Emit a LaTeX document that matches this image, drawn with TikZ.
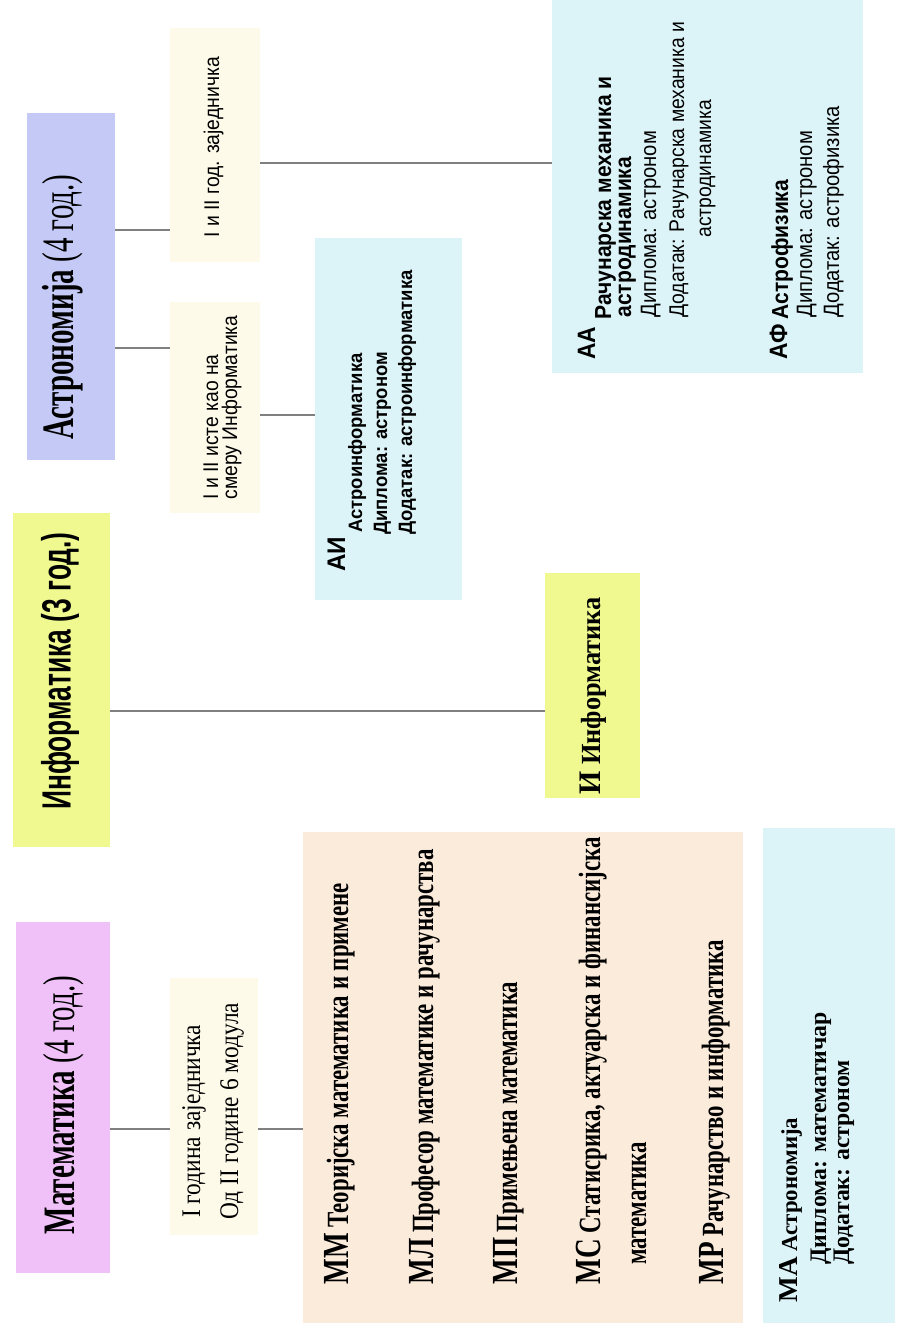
\documentclass[tikz,border=0pt]{standalone}
\usepackage{fontspec}
\setmainfont{Liberation Serif}
\setsansfont{Liberation Sans}
\usetikzlibrary{fit}

\definecolor{matpink}{HTML}{F0C1F8}
\definecolor{astblue}{HTML}{C4C9F5}
\definecolor{infyellow}{HTML}{EFF98F}
\definecolor{cream}{HTML}{FDFAEA}
\definecolor{peach}{HTML}{FBEBDB}
\definecolor{cyanbox}{HTML}{DCF4F8}

\newcommand{\fsz}[1]{\fontsize{#1}{#1}\selectfont}
\newcommand{\modcode}[1]{{\fsz{15.5}#1}}

\tikzset{
  box/.style={inner sep=0pt, fill=#1},
  link/.style={draw=black!50, line width=0.6pt},
  vtext/.style={rotate=90, yscale=#1, inner sep=0pt, anchor=base west},
  vtext/.default=1.25,
  vtitle/.style={rotate=90, yscale=1.55, inner sep=0pt},
}

\begin{document}
\begin{tikzpicture}[x=0.02cm, y=-0.02cm]
\useasboundingbox (0,0) rectangle (897,1339);

% boxes
\node[box=matpink, fit={(16,922) (110,1273)}] (mat) {};
\node[box=infyellow, fit={(13,513) (110,847)}] (inf) {};
\node[box=astblue, fit={(27,113) (115,460)}] (ast) {};
\node[box=cream, fit={(170,978) (258,1235)}] (matc) {};
\node[box=cream, fit={(170,28) (260,262)}] (astc1) {};
\node[box=cream, fit={(170,302) (260,513)}] (astc2) {};
\node[box=peach, fit={(303,832) (743,1323)}] (mod) {};
\node[box=cyanbox, fit={(763,828) (895,1323)}] (ma) {};
\node[box=infyellow, fit={(545,573) (640,798)}] (inI) {};
\node[box=cyanbox, fit={(315,238) (462,600)}] (ai) {};
\node[box=cyanbox, fit={(552,0) (863,373)}] (aa) {};

% connectors
\coordinate (mrow) at (0,1129);
\coordinate (irow) at (0,711);
\coordinate (arow1) at (0,230);
\coordinate (arow2) at (0,348);
\coordinate (arow3) at (0,415);
\coordinate (arow4) at (0,163);
\draw[link] (mat.east |- mrow) -- (matc.west |- mrow);
\draw[link] (matc.east |- mrow) -- (mod.west |- mrow);
\draw[link] (inf.east |- irow) -- (inI.west |- irow);
\draw[link] (ast.east |- arow1) -- (astc1.west |- arow1);
\draw[link] (ast.east |- arow2) -- (astc2.west |- arow2);
\draw[link] (astc2.east |- arow3) -- (ai.west |- arow3);
\draw[link] (astc1.east |- arow4) -- (aa.west |- arow4);

% titles
\node[vtitle, font=\rmfamily\fsz{16.5}] (matt) at (64,1105) {\textbf{Математика} (4 год.)};
\node[vtitle, font=\rmfamily\fsz{16.5}] (astt) at (63,307) {\textbf{Астрономија} (4 год.)};
\node[vtitle, font=\sffamily\bfseries\fsz{15}] (inft) at (60,671) {Информатика (3 год.)};

% first years
\node[vtext=1.15, font=\rmfamily\fsz{13.3}] (matc1) at (200,1218) {I година заједничка};
\node[vtext=1.15, font=\rmfamily\fsz{13.3}] (matc2) at (238,1220) {Од II године 6 модула};
\node[vtext=1.1, font=\sffamily\fsz{11}] (astc1t) at (219,238) {I и II год. заједничка};
\node[vtext=1.1, font=\sffamily\fsz{11}] (astc2a) at (218,500) {I и II исте као на};
\node[vtext=1.1, font=\sffamily\fsz{11}] (astc2b) at (237,500) {смеру Информатика};

% modules of mathematics
\node[vtext=1.35, font=\rmfamily\bfseries\fsz{13}] (mm) at (348,1285) {\modcode{ММ} Теоријска математика и примене};
\node[vtext=1.35, font=\rmfamily\bfseries\fsz{13}] (ml) at (433,1285) {\modcode{МЛ} Професор математике и рачунарства};
\node[vtext=1.35, font=\rmfamily\bfseries\fsz{13}] (mp) at (517,1285) {\modcode{МП} Примењена математика};
\node[vtext=1.35, font=\rmfamily\bfseries\fsz{13}] (ms) at (600,1285) {\modcode{МС} Статисрика, актуарска и финансијска};
\node[vtext=1.35, font=\rmfamily\bfseries\fsz{13}] (ms2) at (646,1265) {математика};
\node[vtext=1.35, font=\rmfamily\bfseries\fsz{13}] (mr) at (723,1285) {\modcode{МР} Рачунарство и информатика};

\node[vtext=1, font=\rmfamily\bfseries\fsz{13.5}] (ma1) at (797,1303) {\modcode{МА} {\fsz{13}Астрономија}};
\node[vtext=1, font=\rmfamily\bfseries\fsz{13.5}] (ma2) at (826,1265) {Диплома: математичар};
\node[vtext=1, font=\rmfamily\bfseries\fsz{13.5}] (ma3) at (849,1265) {Додатак: астроном};

% informatics
\node[vtext=1.05, font=\rmfamily\bfseries\fsz{15}] (it) at (600,795) {{\fsz{17}И} Информатика};

% astronomy
\node[vtext=1.05, font=\sffamily\bfseries\fsz{13.8}] (aic) at (345,572) {АИ};
\node[vtext=1.05, font=\sffamily\bfseries\fsz{10.5}] (ai1) at (362,533) {Астроинформатика};
\node[vtext=1.05, font=\sffamily\bfseries\fsz{10.5}] (ai2) at (387,535) {Диплома: астроном};
\node[vtext=1.05, font=\sffamily\bfseries\fsz{10.5}] (ai3) at (412,535) {Додатак: астроинформатика};

\node[vtext=1.1, font=\sffamily\bfseries\fsz{13}] (aac) at (595,360) {АА};
\node[vtext=1.1, font=\sffamily\bfseries\fsz{12}] (aa1) at (611,320) {Рачунарска механика и};
\node[vtext=1.1, font=\sffamily\bfseries\fsz{12}] (aa2) at (631,318) {астродинамика};
\node[vtext=1.1, font=\sffamily\fsz{11.5}] (aa3) at (656,318) {Диплома: астроном};
\node[vtext=1.1, font=\sffamily\fsz{11}] (aa4) at (684,318) {Додатак: Рачунарска механика и};
\node[vtext=1.1, font=\sffamily\fsz{11}] (aa5) at (711,238) {астродинамика};
\node[vtext=1.1, font=\sffamily\bfseries\fsz{13}] (afc) at (787,360) {АФ};
\node[vtext=1.1, font=\sffamily\bfseries\fsz{12}] (af1) at (788,320) {Астрофизика};
\node[vtext=1.1, font=\sffamily\fsz{11.5}] (af2) at (812,318) {Диплома: астроном};
\node[vtext=1.1, font=\sffamily\fsz{11.5}] (af3) at (839,318) {Додатак: астрофизика};
\end{tikzpicture}
\end{document}
